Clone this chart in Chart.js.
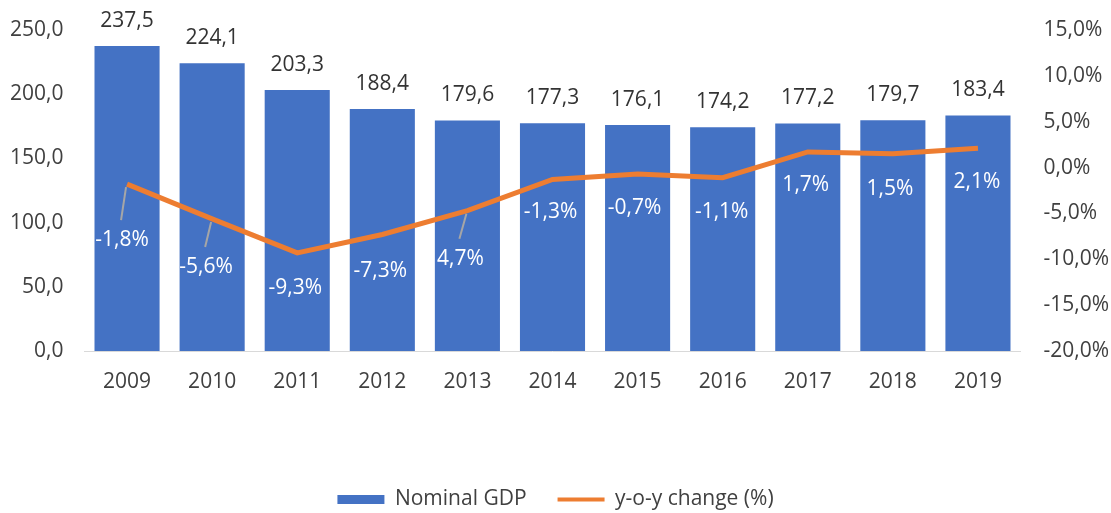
<!DOCTYPE html>
<html>
<head>
<meta charset="utf-8">
<script src="https://cdn.jsdelivr.net/npm/chart.js@4/dist/chart.umd.min.js"></script>
<style>
  html, body { margin: 0; padding: 0; background: #fff; }
  #wrap { width: 1111px; height: 513px; }
</style>
</head>
<body>
<div id="wrap"><canvas id="chart" width="1111" height="513"></canvas></div>
<script>
// datos
const years = ['2009', '2010', '2011', '2012', '2013', '2014', '2015', '2016', '2017', '2018', '2019'];
const gdp = [237.5, 224.1, 203.3, 188.4, 179.6, 177.3, 176.1, 174.2, 177.2, 179.7, 183.4];
const yoy = [-1.8, -5.6, -9.3, -7.3, -4.7, -1.3, -0.7, -1.1, 1.7, 1.5, 2.1];
// etiquetas tal como aparecen (2013 sin signo en el original)
const yoyLabels = ['-1,8%', '-5,6%', '-9,3%', '-7,3%', '4,7%', '-1,3%', '-0,7%', '-1,1%', '1,7%', '1,5%', '2,1%'];

const BLUE = '#4472C4';
const ORANGE = '#ED7D31';
const TEXT = '#404040';
const FONT = '"Open Sans", "Liberation Sans", sans-serif';
const FSIZE = 21;

// formato con coma decimal
const fmt = v => v.toFixed(1).replace('.', ',');

// Etiquetas de valores (barras arriba, línea en blanco)
const valueLabels = {
  id: 'valueLabels',
  afterDatasetsDraw(chart, args, opts) {
    const ctx = chart.ctx;
    ctx.save();
    ctx.font = FSIZE + 'px ' + FONT;
    ctx.textAlign = 'center';
    ctx.textBaseline = 'middle';

    chart.getDatasetMeta(0).data.forEach((bar, i) => {
      ctx.fillStyle = '#333333';
      ctx.fillText(fmt(gdp[i]), bar.x, bar.y - 25);
    });

    chart.getDatasetMeta(1).data.forEach((pt, i) => {
      const [dx, dy] = opts.offsets[i];
      const lx = pt.x + dx, ly = pt.y + dy;
      if (opts.leaders[i]) {
        ctx.strokeStyle = '#A6A6A6';
        ctx.lineWidth = 2;
        ctx.beginPath();
        ctx.moveTo(pt.x - 1, pt.y + 3);
        ctx.lineTo(lx - 1, ly - 20);
        ctx.stroke();
      }
      ctx.fillStyle = '#FFFFFF';
      ctx.fillText(yoyLabels[i], lx, ly);
    });
    ctx.restore();
  }
};

// ancho fijo del eje y sin relleno vertical extra
const fixAxis = w => s => { s.width = w; s.paddingTop = 0; s.paddingBottom = 0; };

const chart = new Chart(document.getElementById('chart'), {
  type: 'bar',
  data: {
    labels: years,
    datasets: [
      {
        type: 'bar',
        label: 'Nominal GDP',
        data: gdp,
        backgroundColor: BLUE,
        yAxisID: 'y',
        order: 1,
        categoryPercentage: 1,
        barPercentage: 0.765
      },
      {
        type: 'line',
        label: 'y-o-y change (%)',
        data: yoy,
        borderColor: ORANGE,
        backgroundColor: ORANGE,
        borderWidth: 5,
        pointRadius: 0,
        tension: 0,
        yAxisID: 'y1',
        order: 0
      }
    ]
  },
  plugins: [valueLabels],
  options: {
    responsive: false,
    animation: false,
    layout: { padding: { top: 30, left: 0, right: 0, bottom: -7 } },
    plugins: {
      tooltip: { enabled: false },
      valueLabels: {
        offsets: [[-5, 56], [-6, 48], [-2, 35], [-2, 36], [-7, 48], [-2, 33], [-3, 34], [-1, 34], [-2, 33], [-3, 35], [-1, 34]],
        leaders: [true, true, false, false, true, false, false, false, false, false, false]
      },
      legend: {
        position: 'bottom',
        labels: {
          color: TEXT,
          font: { family: FONT, size: FSIZE },
          usePointStyle: true,
          pointStyleWidth: 47,
          boxHeight: 9,
          padding: 31,
          sort: (a, b) => a.datasetIndex - b.datasetIndex,
          generateLabels: c => c.data.datasets.map((ds, i) => ({
            text: ds.label,
            fillStyle: ds.type === 'bar' ? BLUE : ORANGE,
            strokeStyle: ds.type === 'bar' ? BLUE : ORANGE,
            lineWidth: ds.type === 'bar' ? 0 : 4,
            pointStyle: ds.type === 'bar' ? 'rect' : 'line',
            fontColor: TEXT,
            datasetIndex: i,
            hidden: false
          }))
        }
      }
    },
    scales: {
      x: {
        grid: { display: false, drawTicks: false },
        border: { display: true, color: '#D9D9D9', width: 1 },
        ticks: { color: TEXT, font: { family: FONT, size: FSIZE }, padding: 18 },
        afterFit: s => { s.height = 107; }
      },
      y: {
        position: 'left',
        min: 0,
        max: 250,
        grid: { display: false, drawTicks: false },
        border: { display: false },
        ticks: { stepSize: 50, color: TEXT, font: { family: FONT, size: FSIZE }, padding: 21, callback: v => fmt(v) },
        afterFit: fixAxis(84.5)
      },
      y1: {
        position: 'right',
        min: -20,
        max: 15,
        grid: { display: false, drawTicks: false },
        border: { display: false },
        ticks: { stepSize: 5, color: TEXT, font: { family: FONT, size: FSIZE }, padding: 23, callback: v => fmt(v) + '%' },
        afterFit: fixAxis(90.5)
      }
    }
  }
});
</script>
</body>
</html>
